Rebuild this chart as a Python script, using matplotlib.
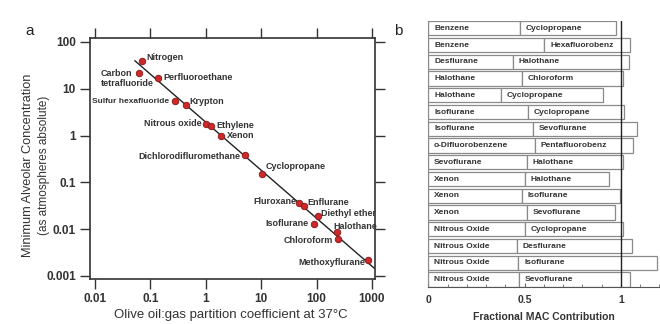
import numpy as np
import matplotlib
matplotlib.use('Agg')
import matplotlib.pyplot as plt
from matplotlib.ticker import FixedLocator, FixedFormatter, NullLocator, MultipleLocator

plt.rcParams['font.family'] = ['Liberation Sans', 'DejaVu Sans']

# panel a: Meyer-Overton
gases = ['Nitrogen', 'Carbon\ntetrafluoride', 'Perfluoroethane', 'Sulfur hexafluoride', 'Krypton',
         'Nitrous oxide', 'Ethylene', 'Xenon', 'Dichlorodifluromethane', 'Cyclopropane',
         'Fluroxane', 'Enflurane', 'Diethyl ether', 'Isoflurane', 'Halothane', 'Chloroform',
         'Methoxyflurane']
oil_gas = [0.07, 0.062, 0.136, 0.275, 0.435, 1.0, 1.27, 1.92, 5.1, 10.3,
           49, 60, 108, 90, 232, 240, 865]
mac = [40, 22, 17, 5.6, 4.4, 1.8, 1.58, 0.97, 0.39, 0.149,
       0.036, 0.031, 0.019, 0.013, 0.0086, 0.0061, 0.0022]
fit_x = [0.053, 1100]
fit_y = [39.5, 0.00146]

# label offsets in pixels (dx, dy, ha)
label_pos = [(5, 3, 'left'), (-38, -6, 'left'), (6, 0, 'left'), (-5, -1, 'right'), (4, 4, 'left'),
             (-4, 0, 'right'), (5, 1, 'left'), (6, 1, 'left'), (-5, -2, 'right'), (4, 8, 'left'),
             (-3, 2, 'right'), (3, 4, 'left'), (2.5, 3, 'left'), (-5, 0, 'right'), (-3, 6, 'left'),
             (-5, -1.5, 'right'), (-3, -3, 'right')]
label_size = [6.5, 6.5, 6.5, 6.0, 6.5, 6.5, 6.5, 6.5, 6.5, 6.5,
              6.5, 6.5, 6.5, 6.5, 6.5, 6.5, 6.5]

xticks_a = [0.01, 0.1, 1, 10, 100, 1000]
xticklabels_a = ['0.01', '0.1', '1', '10', '100', '1000']
yticks_a = [0.001, 0.01, 0.1, 1, 10, 100]
yticklabels_a = ['0.001', '0.01', '0.1', '1', '10', '100']

# panel b: fractional MAC of mixtures
drug1 = ['Benzene', 'Benzene', 'Desflurane', 'Halothane', 'Halothane', 'Isoflurane', 'Isoflurane',
         'o-Difluorobenzene', 'Sevoflurane', 'Xenon', 'Xenon', 'Xenon', 'Nitrous Oxide',
         'Nitrous Oxide', 'Nitrous Oxide', 'Nitrous Oxide']
drug2 = ['Cyclopropane', 'Hexafluorobenz', 'Halothane', 'Chloroform', 'Cyclopropane', 'Cyclopropane',
         'Sevoflurane', 'Pentafluorobenz', 'Halothane', 'Halothane', 'Isoflurane', 'Sevoflurane',
         'Cyclopropane', 'Desflurane', 'Isoflurane', 'Sevoflurane']
frac1 = [0.474, 0.603, 0.438, 0.488, 0.377, 0.517, 0.545, 0.552, 0.510, 0.500, 0.486, 0.514,
         0.502, 0.460, 0.467, 0.472]
total = [0.977, 1.050, 1.040, 1.009, 0.906, 1.019, 1.085, 1.063, 1.012, 0.939, 0.995, 0.970,
         1.010, 1.059, 1.190, 1.045]

fig = plt.figure(figsize=(6.6, 3.24), dpi=100)

# ---- panel a
ax = fig.add_axes([0.136, 0.139, 0.432, 0.744])
ax.set_xscale('log')
ax.set_yscale('log')
ax.plot(fit_x, fit_y, color='#222222', lw=1.0, zorder=2)
ax.scatter(oil_gas, mac, s=22, color='#cc2a2a', edgecolor='#8a1515', linewidth=0.6, zorder=3)
for name, px, py, (dx, dy, ha), fs in zip(gases, oil_gas, mac, label_pos, label_size):
    ax.annotate(name, (px, py), xytext=(dx, dy), textcoords='offset pixels', ha=ha, va='center',
                fontsize=fs, fontweight='bold', color='#333333', linespacing=1.2)
ax.set_xlim(0.0081, 1130)
ax.set_ylim(0.00086, 122)
ax.xaxis.set_major_locator(FixedLocator(xticks_a))
ax.xaxis.set_major_formatter(FixedFormatter(xticklabels_a))
ax.yaxis.set_major_locator(FixedLocator(yticks_a))
ax.yaxis.set_major_formatter(FixedFormatter(yticklabels_a))
ax.xaxis.set_minor_locator(NullLocator())
ax.yaxis.set_minor_locator(NullLocator())
ax.tick_params(which='major', direction='out', length=7, width=1.0, color='#333333',
               top=True, right=True, labelsize=8.5, labelcolor='#333333', pad=3)
for lab in ax.get_xticklabels() + ax.get_yticklabels():
    lab.set_fontweight('bold')
for sp in ax.spines.values():
    sp.set_linewidth(1.2)
    sp.set_color('#333333')

fig.text(0.043, 0.49, 'Minimum Alveolar Concentration', rotation=90, ha='center', va='center',
         fontsize=9.2, color='#333333')
fig.text(0.066, 0.49, '(as atmospheres absolute)', rotation=90, ha='center', va='center',
         fontsize=8.5, color='#333333')
fig.text(0.35, 0.028, 'Olive oil:gas partition coefficient at 37\u00b0C', ha='center', va='center',
         fontsize=9.5, color='#333333')
fig.text(0.045, 0.905, 'a', ha='center', va='center', fontsize=11, color='#222222')
fig.text(0.603, 0.905, 'b', ha='center', va='center', fontsize=11, color='#222222')

# ---- panel b
bx = fig.add_axes([0.649, 0.114, 0.350, 0.822])
rows = np.arange(len(drug1))[::-1]
frac2 = [t - f for t, f in zip(total, frac1)]
bx.barh(rows, frac1, height=0.84, color='white', edgecolor='#8a8a8a', linewidth=0.9)
bx.barh(rows, frac2, left=frac1, height=0.84, color='white', edgecolor='#8a8a8a', linewidth=0.9)
for r, d1, d2, f in zip(rows, drug1, drug2, frac1):
    bx.text(0.03, r, d1, ha='left', va='center', fontsize=6, fontweight='bold', color='#333333')
    bx.text(f + 0.03, r, d2, ha='left', va='center', fontsize=6, fontweight='bold', color='#333333')
bx.axvline(1.0, color='#222222', lw=1.0)
bx.set_xlim(0, 1.2)
bx.set_ylim(-0.45, len(drug1) - 0.55)
bx.set_yticks([])
bx.xaxis.set_major_locator(FixedLocator([0, 0.5, 1]))
bx.xaxis.set_major_formatter(FixedFormatter(['0', '0.5', '1']))
bx.xaxis.set_minor_locator(MultipleLocator(0.1))
bx.tick_params(axis='x', which='both', direction='in', color='#666666')
bx.tick_params(axis='x', which='major', length=3, labelsize=7.5, labelcolor='#333333', pad=6)
bx.tick_params(axis='x', which='minor', length=2)
for lab in bx.get_xticklabels():
    lab.set_fontweight('bold')
for s in ['top', 'right']:
    bx.spines[s].set_visible(False)
bx.spines['left'].set_color('#8a8a8a')
bx.spines['bottom'].set_color('#555555')
bx.set_xlabel('Fractional MAC Contribution', fontsize=7.5, fontweight='bold', color='#333333',
              labelpad=5)

fig.savefig('out.png', dpi=100, facecolor='white')
